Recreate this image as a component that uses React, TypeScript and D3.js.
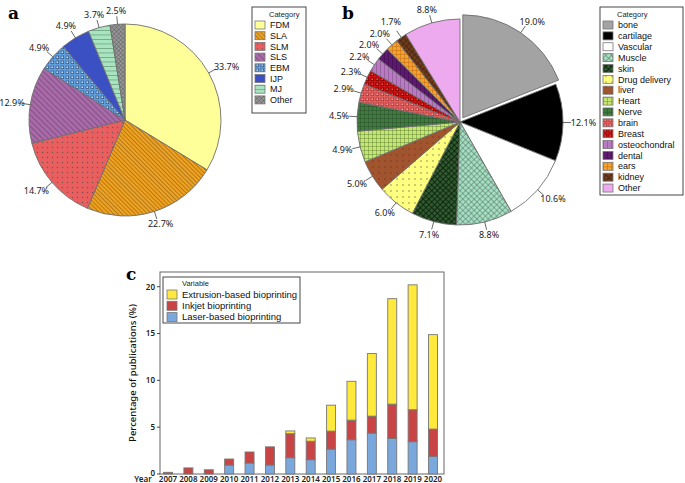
import * as d3 from 'd3';
import React from 'react';

// panel a: printing process share (%)
const processCategories = ['FDM', 'SLA', 'SLM', 'SLS', 'EBM', 'IJP', 'MJ', 'Other'];
const processShares = [33.7, 22.7, 14.7, 12.9, 4.9, 4.9, 3.7, 2.5];
const processFills = ['#ffff99', 'url(#pa-sla)', 'url(#pa-slm)', 'url(#pa-sls)', 'url(#pa-ebm)', '#3b50c2', 'url(#pa-mj)', 'url(#pa-oth)'];

// panel b: application share (%)
const tissueCategories = ['bone', 'cartilage', 'Vascular', 'Muscle', 'skin', 'Drug delivery', 'liver', 'Heart', 'Nerve', 'brain', 'Breast', 'osteochondral', 'dental', 'ears', 'kidney', 'Other'];
const tissueShares = [19.0, 12.1, 10.6, 8.8, 7.1, 6.0, 5.0, 4.9, 4.5, 2.9, 2.3, 2.2, 2.0, 2.0, 1.7, 8.8];
const tissueFills = ['#a3a3a3', '#000000', '#ffffff', 'url(#pb-mus)', 'url(#pb-skin)', 'url(#pb-drug)', 'url(#pb-liv)', 'url(#pb-hrt)', 'url(#pb-nrv)', 'url(#pb-brn)', 'url(#pb-brs)', 'url(#pb-ost)', 'url(#pb-den)', 'url(#pb-ear)', 'url(#pb-kid)', '#eeaaee'];

// panel c: publications per year (%)
const years = ['2007', '2008', '2009', '2010', '2011', '2012', '2013', '2014', '2015', '2016', '2017', '2018', '2019', '2020'];
const laserValues = [0, 0, 0, 0.95, 1.17, 0.96, 1.74, 1.53, 2.66, 3.66, 4.37, 3.8, 3.45, 1.88];
const inkjetValues = [0.18, 0.65, 0.45, 0.65, 1.18, 1.94, 2.56, 1.97, 1.92, 2.09, 1.81, 3.66, 3.41, 2.92];
const extrusionValues = [0, 0, 0, 0, 0, 0, 0.3, 0.35, 2.77, 4.15, 6.68, 11.26, 13.34, 10.08];
const seriesNames = ['Extrusion-based bioprinting', 'Inkjet bioprinting', 'Laser-based bioprinting'];
const seriesColors = ['#ffe93c', '#c94444', '#7aa7dc'];

const FONT = '"Noto Sans", "Open Sans", sans-serif';
const LEGEND_FONT = '"Liberation Sans", Arial, sans-serif';

function Stripes({ id, bg, fg, size, angle, width = 1 }: any) {
    return (
        <pattern id={id} patternUnits="userSpaceOnUse" width={size} height={size} patternTransform={`rotate(${angle})`}>
            <rect width={size} height={size} fill={bg} />
            <line x1={0} y1={0} x2={0} y2={size} stroke={fg} strokeWidth={width} />
        </pattern>
    );
}

function Grid({ id, bg, fg, size, angle = 0, width = 1 }: any) {
    return (
        <pattern id={id} patternUnits="userSpaceOnUse" width={size} height={size} patternTransform={`rotate(${angle})`}>
            <rect width={size} height={size} fill={bg} />
            <path d={`M0,0V${size}M0,0H${size}`} stroke={fg} strokeWidth={width} fill="none" />
        </pattern>
    );
}

function Dots({ id, bg, fg, size, r = 0.7 }: any) {
    return (
        <pattern id={id} patternUnits="userSpaceOnUse" width={size} height={size}>
            <rect width={size} height={size} fill={bg} />
            <circle cx={size / 2} cy={size / 2} r={r} fill={fg} />
        </pattern>
    );
}

function Boxes({ id, bg, fg, inner, size }: any) {
    return (
        <pattern id={id} patternUnits="userSpaceOnUse" width={size} height={size}>
            <rect width={size} height={size} fill={bg} />
            <rect x={1} y={1} width={size - 2.4} height={size - 2.4} fill={inner} stroke={fg} strokeWidth={0.8} />
        </pattern>
    );
}

function Patterns() {
    return (
        <defs>
            <Stripes id="pa-sla" bg="#f3a21b" fg="#5a4a30" size={3} angle={-45} width={0.9} />
            <Dots id="pa-slm" bg="#e95f5f" fg="#7a5050" size={5} />
            <Stripes id="pa-sls" bg="#a86aa8" fg="#5e3a5e" size={4} angle={-45} width={1} />
            <Boxes id="pa-ebm" bg="#5f9fe0" fg="#3d5f8a" inner="#b9d9f7" size={5} />
            <Stripes id="pa-mj" bg="#a7e4bf" fg="#4f7a60" size={4.5} angle={90} width={1} />
            <Grid id="pa-oth" bg="#9a9a9a" fg="#5a5a5a" size={3} angle={45} />
            <Grid id="pb-mus" bg="#a3e0c2" fg="#5a6a60" size={4} angle={45} />
            <Grid id="pb-skin" bg="#2e5a2e" fg="#0c1c0c" size={4} angle={45} width={1.6} />
            <Dots id="pb-drug" bg="#ffff80" fg="#6a6a50" size={6} />
            <Dots id="pb-liv" bg="#a2542e" fg="#6a3a20" size={6} />
            <Grid id="pb-hrt" bg="#c5e673" fg="#6a8a3a" size={4} />
            <Grid id="pb-nrv" bg="#3f7a3f" fg="#2a502a" size={4} />
            <Boxes id="pb-brn" bg="#e25c5c" fg="#b03a3a" inner="#f29a9a" size={5} />
            <Boxes id="pb-brs" bg="#cc1111" fg="#880000" inner="#e65050" size={5} />
            <Stripes id="pb-ost" bg="#b87ac0" fg="#7a4a80" size={4} angle={0} />
            <Stripes id="pb-den" bg="#5c1a6c" fg="#3a0a4a" size={4} angle={0} />
            <Grid id="pb-ear" bg="#f3a230" fg="#c06a10" size={4} />
            <Grid id="pb-kid" bg="#6e3c1c" fg="#3a1c0a" size={4} angle={45} />
        </defs>
    );
}

interface IPieProps {
    cx: number;
    cy: number;
    radius: number;
    values: number[];
    categories: string[];
    fills: string[];
    explode?: number;
}

function PiePanel({ cx, cy, radius, values, categories, fills, explode = -1 }: IPieProps) {
    const pie = d3.pie<number>().sort(null).value((d) => d);
    const arcs = pie(values);
    const arc = d3.arc<d3.PieArcDatum<number>>().innerRadius(0).outerRadius(radius);

    // label placement: just outside the rim, then nudge neighbours apart
    const labels = arcs.map((a, i) => {
        const mid = (a.startAngle + a.endAngle) / 2;
        const s = Math.sin(mid);
        const c = Math.cos(mid);
        const off = i === explode ? 5 : 0;
        const text = `${values[i].toFixed(1)}%`;
        const w = text.length * 4.6;
        const p = radius + off + 9;
        return {
            s, c, off, text, w,
            x: Math.max(s * p + (s * w) / 2, -cx + w / 2 + 0.5),
            y: -c * p - (c * 9) / 2,
        };
    });
    for (let i = 1; i < labels.length; i++) {
        const a = labels[i - 1];
        const b = labels[i];
        const dx = Math.abs(a.x - b.x);
        const dy = b.y - a.y;
        if (dx < (a.w + b.w) / 2 && Math.abs(dy) < 11.5) {
            b.y = a.y + (dy < 0 ? -11.5 : 11.5);
        }
    }

    return (
        <g transform={`translate(${cx},${cy})`}>
            {arcs.map((a, i) => {
                const { s, c, off, text, x, y } = labels[i];
                return (
                    <g key={categories[i]}>
                        <path
                            d={arc(a) || ''}
                            transform={`translate(${s * off},${-c * off})`}
                            fill={fills[i]}
                            stroke="#6e6e6e"
                            strokeWidth={0.9}
                        />
                        <line
                            x1={s * (radius + off)}
                            y1={-c * (radius + off)}
                            x2={s * (radius + off + 8)}
                            y2={-c * (radius + off + 8)}
                            stroke="#444"
                            strokeWidth={0.8}
                        />
                        <text x={x} y={y} dy="0.35em" textAnchor="middle" fontSize={9} fill="#222">{text}</text>
                    </g>
                );
            })}
        </g>
    );
}

function Legend({ x, y, width, height, rowH, title, items, fills }: any) {
    return (
        <g transform={`translate(${x},${y})`} fontFamily={LEGEND_FONT}>
            <rect width={width} height={height} fill="#fff" stroke="#333" strokeWidth={0.9} />
            <text x={17} y={10} fontSize={7.5} fill="#222">{title}</text>
            {items.map((name: string, i: number) => (
                <g key={name} transform={`translate(3,${18 + i * rowH})`}>
                    <rect width={10} height={8} y={-4} fill={fills[i]} stroke="#777" strokeWidth={0.8} />
                    <text x={15} dy="0.35em" fontSize={9} fill="#111">{name}</text>
                </g>
            ))}
        </g>
    );
}

function BarPanel() {
    const left = 160, right = 444, top = 272, bottom = 474;
    const x = d3.scalePoint<string>().domain(years).range([168, 433]);
    const y = d3.scaleLinear().domain([0, 21.57]).range([bottom, top]);
    const rows = years.map((yr, i) => ({ year: yr, laser: laserValues[i], inkjet: inkjetValues[i], extrusion: extrusionValues[i] }));
    const stack = d3.stack<any>().keys(['laser', 'inkjet', 'extrusion']);
    const layers = stack(rows);
    const colorByKey: any = { laser: seriesColors[2], inkjet: seriesColors[1], extrusion: seriesColors[0] };
    const bw = 9;

    return (
        <g fontFamily={FONT}>
            <rect x={left} y={top} width={right - left} height={bottom - top} fill="none" stroke="#666" strokeWidth={1} />
            {y.ticks(4).map((t) => (
                <g key={t}>
                    <line x1={left - 3} x2={left} y1={y(t)} y2={y(t)} stroke="#444" />
                    <text x={left - 5} y={t === 0 ? y(t) - 1 : y(t)} dy="0.35em" textAnchor="end" fontSize={8} fontWeight={600} fill="#222">{t}</text>
                </g>
            ))}
            {layers.map((layer) => (
                <g key={layer.key}>
                    {layer.map((d, i) => (d[1] - d[0] > 0 ? (
                        <rect
                            key={years[i]}
                            x={(x(years[i]) as number) - bw / 2}
                            y={y(d[1])}
                            width={bw}
                            height={y(d[0]) - y(d[1])}
                            fill={colorByKey[layer.key]}
                            stroke="#777"
                            strokeWidth={0.9}
                        />
                    ) : null))}
                </g>
            ))}
            {years.map((yr) => (
                <text key={yr} x={x(yr)} y={482} textAnchor="middle" fontSize={8} fontWeight={600} fill="#222">{yr}</text>
            ))}
            <text x={143} y={482} textAnchor="middle" fontSize={8} fontWeight={600} fill="#222">Year</text>
            <text transform={`translate(136,373) rotate(-90)`} textAnchor="middle" fontSize={9.5} fontWeight={500} fill="#111">Percentage of publications (%)</text>
            <g transform="translate(163,277)" fontFamily={LEGEND_FONT}>
                <rect width={137} height={46} fill="#fff" stroke="#333" strokeWidth={0.9} />
                <text x={19} y={8.5} fontSize={7.5} fill="#222">Variable</text>
                {seriesNames.map((name, i) => (
                    <g key={name} transform={`translate(4,${17.5 + i * 11.3})`}>
                        <rect y={-4.5} width={10} height={9} fill={seriesColors[i]} stroke="#777" strokeWidth={0.8} />
                        <text x={15} dy="0.35em" fontSize={9.5} fill="#111">{name}</text>
                    </g>
                ))}
            </g>
        </g>
    );
}

export default function App() {
    return (
        <div>
            <style>{'body{margin:0}'}</style>
            <svg width={685} height={483} fontFamily={FONT} style={{ display: 'block', background: '#fff' }}>
                <Patterns />
                <text x={8} y={19} fontFamily="DejaVu Serif, serif" fontWeight="bold" fontSize={17}>a</text>
                <text x={342} y={19} fontFamily="DejaVu Serif, serif" fontWeight="bold" fontSize={17}>b</text>
                <text x={126} y={280} fontFamily="DejaVu Serif, serif" fontWeight="bold" fontSize={17}>c</text>
                <PiePanel cx={125} cy={120} radius={96} values={processShares} categories={processCategories} fills={processFills} />
                <Legend x={252} y={7} width={54} height={106} rowH={10.7} title="Category" items={processCategories} fills={processFills} />
                <PiePanel cx={460} cy={122} radius={103} values={tissueShares} categories={tissueCategories} fills={tissueFills} explode={0} />
                <Legend x={600} y={7} width={83} height={188} rowH={10.87} title="Category" items={tissueCategories} fills={tissueFills} />
                <BarPanel />
            </svg>
        </div>
    );
}
